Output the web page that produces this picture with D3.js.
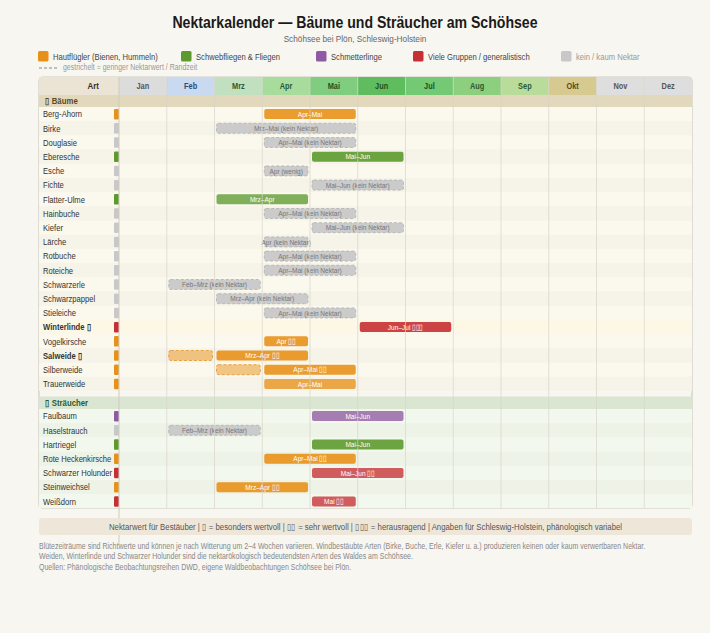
<!DOCTYPE html>
<html>
<head>
<meta charset="utf-8">
<script src="https://cdn.jsdelivr.net/npm/d3@7"></script>
<style>
body{margin:0;background:#f8f6f0;}
svg{font-family:"Liberation Sans",Arial,sans-serif;}
</style>
</head>
<body>
<svg id="chart" width="710" height="633"></svg>
<script>
var months = ["Jan","Feb","Mrz","Apr","Mai","Jun","Jul","Aug","Sep","Okt","Nov","Dez"];

// Bäume
var treeNames = ["Berg-Ahorn","Birke","Douglasie","Eberesche","Esche","Fichte","Flatter-Ulme","Hainbuche","Kiefer","Lärche","Rotbuche","Roteiche","Schwarzerle","Schwarzpappel","Stieleiche","Winterlinde","Vogelkirsche","Salweide","Silberweide","Trauerweide"];
var treeGroup = ["haut","none","none","schweb","none","none","schweb","none","none","none","none","none","none","none","none","viele","haut","haut","haut","haut"];
var treeStars = [0,0,0,0,0,0,0,0,0,0,0,0,0,0,0,1,0,1,0,0];
var treeHighlight = [0,0,0,0,0,0,0,0,0,0,0,0,0,0,0,1,0,0,0,0];
// [zeile, von, bis (Monatsindex), text, art]
var treeBars = [
  [0,3,4,"Apr–Mai","solid"],
  [1,2,4,"Mrz–Mai (kein Nektar)","none"],
  [2,3,4,"Apr–Mai (kein Nektar)","none"],
  [3,4,5,"Mai–Jun","solid"],
  [4,3,3,"Apr (wenig)","none"],
  [5,4,5,"Mai–Jun (kein Nektar)","none"],
  [6,2,3,"Mrz–Apr","soft"],
  [7,3,4,"Apr–Mai (kein Nektar)","none"],
  [8,4,5,"Mai–Jun (kein Nektar)","none"],
  [9,3,3,"Apr (kein Nektar)","none"],
  [10,3,4,"Apr–Mai (kein Nektar)","none"],
  [11,3,4,"Apr–Mai (kein Nektar)","none"],
  [12,1,2,"Feb–Mrz (kein Nektar)","none"],
  [13,2,3,"Mrz–Apr (kein Nektar)","none"],
  [14,3,4,"Apr–Mai (kein Nektar)","none"],
  [15,5,6,"Jun–Jul ▯▯▯","solid"],
  [16,3,3,"Apr ▯▯","solid"],
  [17,1,1,"","low"],
  [17,2,3,"Mrz–Apr ▯▯","solid"],
  [18,2,2,"","low"],
  [18,3,4,"Apr–Mai ▯▯","solid"],
  [19,3,4,"Apr–Mai","soft"]
];

// Sträucher
var shrubNames = ["Faulbaum","Haselstrauch","Hartriegel","Rote Heckenkirsche","Schwarzer Holunder","Steinweichsel","Weißdorn"];
var shrubGroup = ["schmett","none","schweb","haut","viele","haut","viele"];
var shrubBars = [
  [0,4,5,"Mai–Jun","soft"],
  [1,1,2,"Feb–Mrz (kein Nektar)","none"],
  [2,4,5,"Mai–Jun","solid"],
  [3,3,4,"Apr–Mai ▯▯","solid"],
  [4,4,5,"Mai–Jun ▯▯","soft"],
  [5,2,3,"Mrz–Apr ▯▯","solid"],
  [6,4,4,"Mai ▯▯","soft"]
];

var legendKeys = ["haut","schweb","schmett","viele","none"];
var legendLabels = ["Hautflügler (Bienen, Hummeln)","Schwebfliegen & Fliegen","Schmetterlinge","Viele Gruppen / generalistisch","kein / kaum Nektar"];

var colors = {haut:"#e8911a", schweb:"#5c9a2e", schmett:"#8e5aa3", viele:"#c62f34", none:"#c8c8c8"};
var headFill = ["#dcdcdc","#c9d9f0","#c0e0c0","#a8dc9c","#80cd80","#5fbd5f","#74c974","#8ccf7e","#badc9a","#d6ca90","#dedede","#dedede"];
var headText = ["#555","#2d4a78","#2a5a34","#2a5a34","#1f4f25","#1f4f25","#1f4f25","#2a5a34","#2a5a34","#5a4a1e","#555","#555"];

var svg = d3.select("#chart");
var W = 710;
var left = 39, right = 692, labelW = 80;
var gridTop = 77, headH = 18, gridBottom = 508.5;
var squeeze = 0.84; // schmale Schrift nachbilden

svg.append("text").attr("x",W/2).attr("y",28).attr("text-anchor","middle")
  .attr("font-size",16.8).attr("font-weight","bold").attr("fill","#1a1a1a")
  .text("Nektarkalender — Bäume und Sträucher am Schöhsee");
svg.append("text").attr("x",W/2).attr("y",42).attr("text-anchor","middle")
  .attr("font-size",9.8).attr("fill","#666").text("Schöhsee bei Plön, Schleswig-Holstein");

// Legende
var legX = [38,181,316,413,561];
var leg = svg.append("g");
legendKeys.forEach(function(k,i){
  leg.append("rect").attr("x",legX[i]).attr("y",51).attr("width",10.5).attr("height",10.5).attr("rx",1.5)
    .attr("fill",colors[k]);
  leg.append("text").attr("x",legX[i]+15).attr("y",59.7).attr("font-size",9.1)
    .attr("fill",k=="none"?"#999":"#444").text(legendLabels[i]);
});
leg.append("line").attr("x1",39).attr("x2",57).attr("y1",68).attr("y2",68)
  .attr("stroke","#888").attr("stroke-width",1.2).attr("stroke-dasharray","3,2");
leg.append("text").attr("x",63).attr("y",70.5).attr("font-size",8.3).attr("fill","#999")
  .text("gestrichelt = geringer Nektarwert / Randzeit");

var x = d3.scaleLinear().domain([0,12]).range([left+labelW,right]);

var yTree = d3.scaleBand().domain(d3.range(treeNames.length)).range([107,391]);
var yShrub = d3.scaleBand().domain(d3.range(shrubNames.length)).range([409,gridBottom]);

// Rahmen
svg.append("rect").attr("x",left).attr("y",gridTop).attr("width",right-left).attr("height",gridBottom-gridTop)
  .attr("rx",4).attr("fill","#f8f6f0").attr("stroke","#cfcbc0").attr("stroke-width",1.2);

// Kopfzeile
var head = svg.append("g");
head.append("rect").attr("x",left).attr("y",gridTop).attr("width",labelW).attr("height",headH).attr("fill","#ebe3d3");
head.append("text").attr("x",left+labelW-20).attr("y",gridTop+12.5).attr("text-anchor","end")
  .attr("font-size",9.5).attr("font-weight","bold").attr("fill","#3a3020").text("Art");
head.selectAll(".mh").data(months).enter().append("rect")
  .attr("x",(d,i)=>x(i)).attr("y",gridTop).attr("width",x(1)-x(0)).attr("height",headH)
  .attr("fill",(d,i)=>headFill[i]);
head.selectAll(".mt").data(months).enter().append("text")
  .attr("x",(d,i)=>x(i+0.5)).attr("y",gridTop+12.3).attr("text-anchor","middle")
  .attr("font-size",8.8).attr("font-weight","bold").attr("fill",(d,i)=>headText[i]).text(d=>d);

function section(names, groups, stars, hl, bars, y, hdrY, hdrFill, hdrText, title, rowA, rowB){
  var g = svg.append("g");
  g.append("rect").attr("x",left).attr("y",hdrY).attr("width",right-left).attr("height",y.range()[0]-hdrY)
    .attr("fill",hdrFill);
  g.append("text").attr("x",left+6).attr("y",hdrY+9.5).attr("font-size",9.3).attr("font-weight","bold")
    .attr("fill",hdrText).text(title);

  g.selectAll(".row").data(names).enter().append("rect")
    .attr("x",left).attr("y",(d,i)=>y(i)).attr("width",right-left).attr("height",y.bandwidth())
    .attr("fill",(d,i)=>hl[i] ? "#fdf8e6" : (i%2==0?rowA:rowB));

  g.selectAll(".lab").data(names).enter().append("text")
    .attr("x",left+4).attr("y",(d,i)=>y(i)+y.bandwidth()/2+3.3)
    .attr("font-size",9.1).attr("fill","#333")
    .attr("font-weight",(d,i)=>stars[i]?"bold":"normal")
    .text((d,i)=>stars[i]? d+" ▯" : d);

  g.selectAll(".mark").data(groups).enter().append("rect")
    .attr("x",left+labelW-5).attr("y",(d,i)=>y(i)+y.bandwidth()/2-5.2)
    .attr("width",5).attr("height",10.5).attr("rx",1.2).attr("fill",d=>colors[d]);

  var bh = 10;
  var bg = g.append("g");
  bars.forEach(function(b){
    var r = b[0], k = groups[r], kind = b[4];
    var x0 = x(b[1])+2, x1 = x(b[2]+1)-2, yy = y(r)+y.bandwidth()/2-bh/2;
    var fill = colors[k], op = 0.9, stroke = "none";
    if(kind=="soft") op = 0.78;
    if(kind=="low"){ op = 0.5; stroke = colors[k]; }
    if(kind=="none"){ fill = "#cbcbcb"; op = 1; stroke = "#b0b0b0"; }
    bg.append("rect").attr("x",x0).attr("y",yy).attr("width",x1-x0).attr("height",bh).attr("rx",2)
      .attr("fill",fill).attr("fill-opacity",op)
      .attr("stroke",stroke).attr("stroke-width",kind=="none"||kind=="low"?0.8:0)
      .attr("stroke-dasharray","3,2");
    if(b[3]) bg.append("text").attr("x",(x0+x1)/2).attr("y",yy+7.7).attr("text-anchor","middle")
      .attr("font-size",7.8).attr("fill",kind=="none"?"#777":"#fff").text(b[3]);
  });
}

section(treeNames, treeGroup, treeStars, treeHighlight, treeBars, yTree, 95, "#e2d8bc", "#5a4a1e", "▯ Bäume", "#fbf8ee", "#f6f3e8");
section(shrubNames, shrubGroup, shrubNames.map(()=>0), shrubNames.map(()=>0), shrubBars, yShrub, 396.5, "#dbe6d2", "#2e5a2e", "▯ Sträucher", "#f3f8ee", "#edf3e6");

// Monatslinien über den Balken
var grid = svg.append("g");
grid.selectAll("line").data(d3.range(1,12)).enter().append("line")
  .attr("x1",d=>x(d)).attr("x2",d=>x(d)).attr("y1",gridTop).attr("y2",gridBottom)
  .attr("stroke","#d8d4c8").attr("stroke-opacity",0.7).attr("stroke-width",1);
grid.append("line").attr("x1",x(0)).attr("x2",x(0)).attr("y1",gridTop).attr("y2",545)
  .attr("stroke","#cfcbc0").attr("stroke-width",1);

// Fußzeile
svg.append("rect").attr("x",left).attr("y",518).attr("width",right-left).attr("height",17).attr("rx",3)
  .attr("fill","#ece6d6").attr("fill-opacity",0.9);
svg.append("text").attr("x",(left+right)/2).attr("y",529.8).attr("text-anchor","middle")
  .attr("font-size",9.3).attr("fill","#555")
  .text("Nektarwert für Bestäuber | ▯ = besonders wertvoll | ▯▯ = sehr wertvoll | ▯▯▯ = herausragend | Angaben für Schleswig-Holstein, phänologisch variabel");

var notes = ["Blütezeiträume sind Richtwerte und können je nach Witterung um 2–4 Wochen variieren. Windbestäubte Arten (Birke, Buche, Erle, Kiefer u. a.) produzieren keinen oder kaum verwertbaren Nektar.",
  "Weiden, Winterlinde und Schwarzer Holunder sind die nektarökologisch bedeutendsten Arten des Waldes am Schöhsee.",
  "Quellen: Phänologische Beobachtungsreihen DWD, eigene Waldbeobachtungen Schöhsee bei Plön."];
svg.selectAll(".note").data(notes).enter().append("text")
  .attr("x",39).attr("y",(d,i)=>549+i*10.3).attr("font-size",8.35).attr("fill","#888").text(d=>d);

// alle Texte horizontal stauchen (um ihren Ankerpunkt)
svg.selectAll("text").each(function(){
  var t = d3.select(this), tx = +t.attr("x");
  t.attr("transform","translate(" + (tx*(1-squeeze)) + ",0) scale(" + squeeze + ",1)");
});
</script>
</body>
</html>
